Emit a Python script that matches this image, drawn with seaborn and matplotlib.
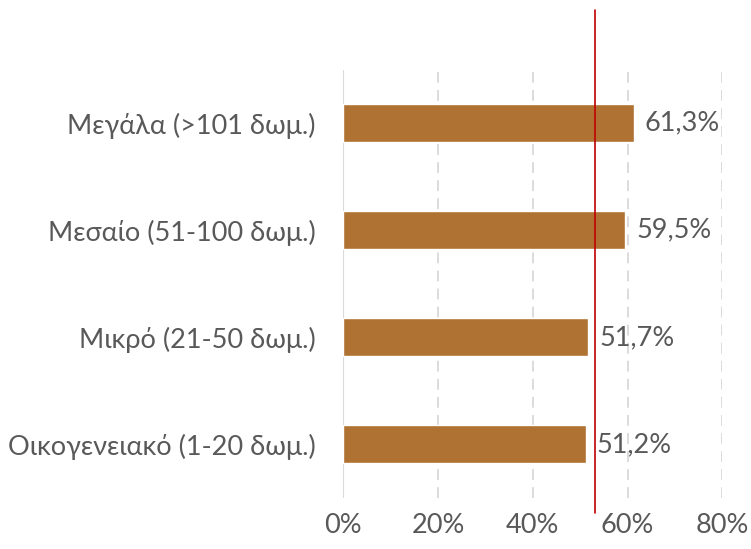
import matplotlib
matplotlib.use("Agg")
import matplotlib.pyplot as plt
import seaborn as sns
import pandas as pd

# data
categories = ["Μεγάλα (>101 δωμ.)", "Μεσαίο (51-100 δωμ.)",
              "Μικρό (21-50 δωμ.)", "Οικογενειακό (1-20 δωμ.)"]
values = [61.3, 59.5, 51.7, 51.2]
average = 53.1
ticks = [0, 20, 40, 60, 80]

df = pd.DataFrame({"category": categories, "value": values})

sns.set_theme(style="white")
plt.rcParams["font.family"] = ["Lato", "DejaVu Sans"]

text_color = "#595959"
bar_color = "#B07233"
fs = 19.5

fig = plt.figure(figsize=(7.51, 5.49), dpi=100)
ax = fig.add_axes([0.457, 0.093, 0.505, 0.78])

sns.barplot(data=df, x="value", y="category", orient="h", color=bar_color,
            saturation=1, width=0.355, ax=ax)

# gridlines
for t in ticks[1:]:
    ax.axvline(t, color="#d9d9d9", lw=1.3, ls=(0, (6, 4)), zorder=0)
ax.axvline(0, color="#d9d9d9", lw=1.5, zorder=0)

# average line (extends past the plot area)
ax.axvline(average, ymin=-0.035, ymax=1.14, color="#c00000", lw=1.2,
           clip_on=False, zorder=3)

for i, v in enumerate(values):
    ax.text(v + 2.3, i, f"{v:.1f}%".replace(".", ","), va="center", ha="left",
            fontsize=fs, color=text_color)

ax.set_xlim(0, 80)
ax.set_xticks(ticks)
ax.set_xticklabels([f"{t}%" for t in ticks])
ax.set_xlabel("")
ax.set_ylabel("")
ax.tick_params(axis="both", length=0, labelsize=fs, labelcolor=text_color)
ax.tick_params(axis="x", pad=11)
ax.tick_params(axis="y", pad=20)
sns.despine(ax=ax, left=True, bottom=True)

fig.savefig("out.png", dpi=100)
